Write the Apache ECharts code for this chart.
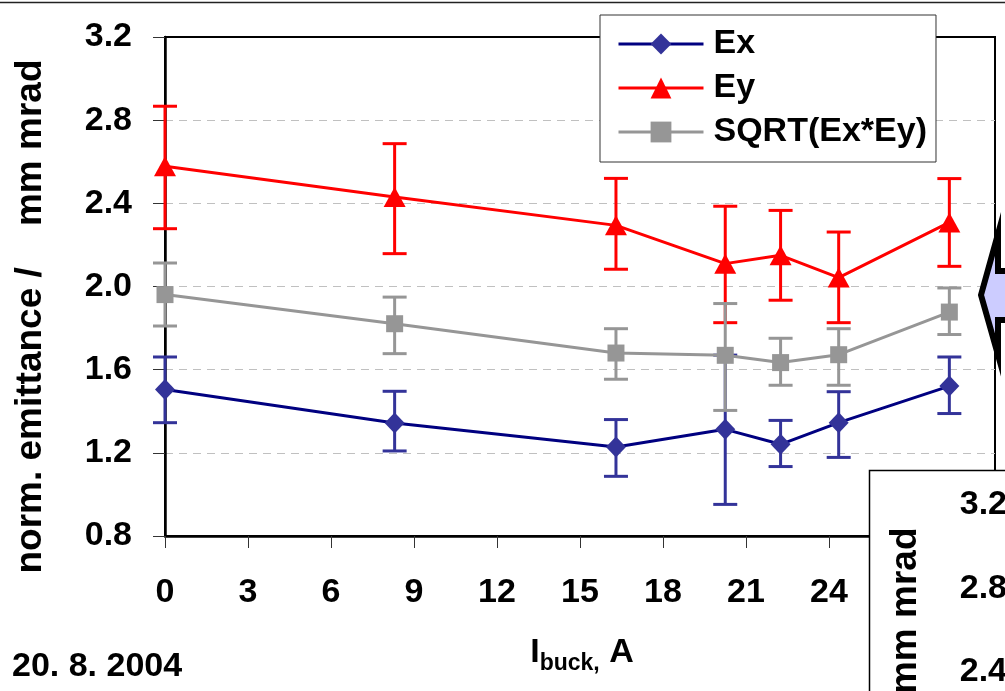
<!DOCTYPE html>
<html>
<head>
<meta charset="utf-8">
<script src="https://cdn.jsdelivr.net/npm/echarts@6/dist/echarts.min.js"></script>
<style>
  html, body { margin: 0; padding: 0; background: #fff; }
  #chart { width: 1005px; height: 691px; }
</style>
</head>
<body>
<div id="chart"></div>
<script>
// Buncher current scan: normalized emittance vs I_buck
const currents = [0, 8.3, 16.3, 20.25, 22.25, 24.35, 28.35];

const exVal = [1.505, 1.343, 1.228, 1.313, 1.241, 1.345, 1.521];
const exLo  = [1.345, 1.209, 1.087, 0.952, 1.134, 1.178, 1.389];
const exHi  = [1.661, 1.496, 1.360, 1.670, 1.356, 1.494, 1.661];

const eyVal = [2.578, 2.430, 2.294, 2.110, 2.150, 2.043, 2.308];
const eyLo  = [2.278, 2.158, 2.083, 1.826, 1.934, 1.826, 2.097];
const eyHi  = [2.867, 2.687, 2.520, 2.386, 2.366, 2.262, 2.519];

const sqVal = [1.961, 1.821, 1.680, 1.669, 1.634, 1.672, 1.877];
const sqLo  = [1.810, 1.677, 1.554, 1.404, 1.525, 1.525, 1.769];
const sqHi  = [2.113, 1.949, 1.797, 1.918, 1.751, 1.797, 1.993];

const seriesNames = ['Ex', 'Ey', 'SQRT(Ex*Ey)'];
const xTicks = [0, 3, 6, 9, 12, 15, 18, 21, 24, 27, 30];
const yTicks = [0.8, 1.2, 1.6, 2.0, 2.4, 2.8, 3.2];
const yTitle = 'norm. emittance /    mm mrad';
const dateText = '20. 8. 2004';

const FONT = '"Liberation Sans", Arial, Helvetica, sans-serif';
const xStep = xTicks[1] - xTicks[0];
const yStep = +(yTicks[1] - yTicks[0]).toFixed(2);

function pairs(vals) { return currents.map((x, i) => [x, vals[i]]); }

function errorBars(name, lo, hi, color) {
  return {
    type: 'custom',
    name: name + ' err',
    z: 1,
    silent: true,
    xAxisIndex: 0,
    yAxisIndex: 0,
    encode: { x: 0, y: [1, 2] },
    data: currents.map((x, i) => [x, lo[i], hi[i]]),
    renderItem(params, api) {
      const top = api.coord([api.value(0), api.value(2)]);
      const bot = api.coord([api.value(0), api.value(1)]);
      const half = 12;
      const style = { stroke: color, lineWidth: 3 };
      return {
        type: 'group',
        children: [
          { type: 'line', shape: { x1: top[0], y1: top[1], x2: bot[0], y2: bot[1] }, style },
          { type: 'line', shape: { x1: top[0] - half, y1: top[1], x2: top[0] + half, y2: top[1] }, style },
          { type: 'line', shape: { x1: bot[0] - half, y1: bot[1], x2: bot[0] + half, y2: bot[1] }, style }
        ]
      };
    }
  };
}

function lineSeries(name, vals, lineColor, markColor, symbol, size) {
  return {
    type: 'line',
    name,
    z: 3,
    xAxisIndex: 0,
    yAxisIndex: 0,
    data: pairs(vals),
    symbol,
    symbolSize: size,
    showAllSymbol: true,
    lineStyle: { color: lineColor, width: 3 },
    itemStyle: { color: markColor },
    emphasis: { disabled: true }
  };
}

const labelStyle = { fontFamily: FONT, fontWeight: 'bold', fontSize: 34, color: '#000' };

function valueYAxis(gridIndex, z) {
  return {
    type: 'value',
    gridIndex,
    z,
    min: yTicks[0],
    max: yTicks[yTicks.length - 1],
    interval: yStep,
    name: yTitle,
    nameLocation: 'middle',
    nameGap: 116,
    nameTextStyle: Object.assign({}, labelStyle, { fontSize: 37, padding: [0, 60, 0, 0] }),
    axisLine: { show: true, lineStyle: { color: '#000', width: 2.5 } },
    axisTick: { show: true, inside: false, length: 12, lineStyle: { color: '#333', width: 1 } },
    axisLabel: Object.assign({}, labelStyle, { margin: 33, formatter: v => v.toFixed(1) }),
    splitLine: { show: true, showMinLine: false, showMaxLine: false, lineStyle: { color: '#c0c0c0', width: 1, type: [8, 6] } }
  };
}

const chart = echarts.init(document.getElementById('chart'));
chart.setOption({
  animation: false,
  backgroundColor: '#fff',
  grid: [
    { left: 165, top: 37, width: 830, height: 499, containLabel: false, outerBoundsMode: 'none',
      show: true, borderColor: '#000', borderWidth: 2, backgroundColor: 'transparent' },
    { left: 1040, top: 505, width: 830, height: 499, containLabel: false, outerBoundsMode: 'none' }
  ],
  xAxis: [
    {
      type: 'value',
      gridIndex: 0,
      min: xTicks[0],
      max: xTicks[xTicks.length - 1],
      interval: xStep,
      name: '{i|I}{s|buck,}{i| A}',
      nameLocation: 'middle',
      nameGap: 95,
      nameTextStyle: {
        padding: [0, 0, 0, 4],
        rich: {
          i: { fontFamily: FONT, fontWeight: 'bold', fontSize: 34, color: '#000', lineHeight: 44, verticalAlign: 'middle' },
          s: { fontFamily: FONT, fontWeight: 'bold', fontSize: 23, color: '#000', lineHeight: 23, verticalAlign: 'bottom' }
        }
      },
      axisLine: { show: true, lineStyle: { color: '#000', width: 2.5 } },
      axisTick: { show: true, inside: false, length: 12, lineStyle: { color: '#333', width: 1 } },
      axisLabel: Object.assign({}, labelStyle, { margin: 40 }),
      splitLine: { show: false }
    },
    { type: 'value', gridIndex: 1, min: 0, max: 30, show: false }
  ],
  yAxis: [valueYAxis(0, 0), valueYAxis(1, 110)],
  legend: {
    data: seriesNames,
    orient: 'vertical',
    left: 600,
    top: 15,
    padding: [12, 9, 13, 17],
    itemWidth: 85,
    itemHeight: 26,
    itemGap: 10,
    backgroundColor: '#fff',
    borderColor: '#333',
    borderWidth: 1,
    borderRadius: 0,
    selectedMode: false,
    lineStyle: { width: 3 },
    textStyle: Object.assign({}, labelStyle, { lineHeight: 34, padding: [0, 0, 0, 5] }),
    z: 10
  },
  series: [
    errorBars('Ex', exLo, exHi, '#333399'),
    errorBars('Ey', eyLo, eyHi, '#ff0000'),
    errorBars('SQRT', sqLo, sqHi, '#969696'),
    lineSeries(seriesNames[0], exVal, '#000080', '#333399', 'diamond', [20, 21]),
    lineSeries(seriesNames[1], eyVal, '#ff0000', '#ff0000', 'triangle', [22, 20]),
    lineSeries(seriesNames[2], sqVal, '#969696', '#969696', 'rect', [17, 17])
  ],
  graphic: [
    // outer frame of the slide panel
    { type: 'line', z: 100, shape: { x1: 0, y1: 2.5, x2: 1005, y2: 2.5 }, style: { stroke: '#222', lineWidth: 1.5 } },
    // panel of the neighbouring plot
    { type: 'rect', z: 100, shape: { x: 869.5, y: 470.5, width: 300, height: 400 }, style: { fill: '#fff', stroke: '#000', lineWidth: 1.5 } },
    // block arrow pointing left
    {
      type: 'polygon', z: 100,
      shape: { points: [[981, 295], [998, 234], [998, 271], [1020, 271], [1020, 320], [998, 320], [998, 355]] },
      style: { fill: '#ccccff', stroke: '#000', lineWidth: 6, lineJoin: 'miter', miterLimit: 10 }
    },
    {
      type: 'text', z: 100, x: 12, y: 667,
      style: { text: dateText, font: 'bold 34px ' + FONT, fill: '#000', verticalAlign: 'middle', align: 'left' }
    }
  ]
});
</script>
</body>
</html>
